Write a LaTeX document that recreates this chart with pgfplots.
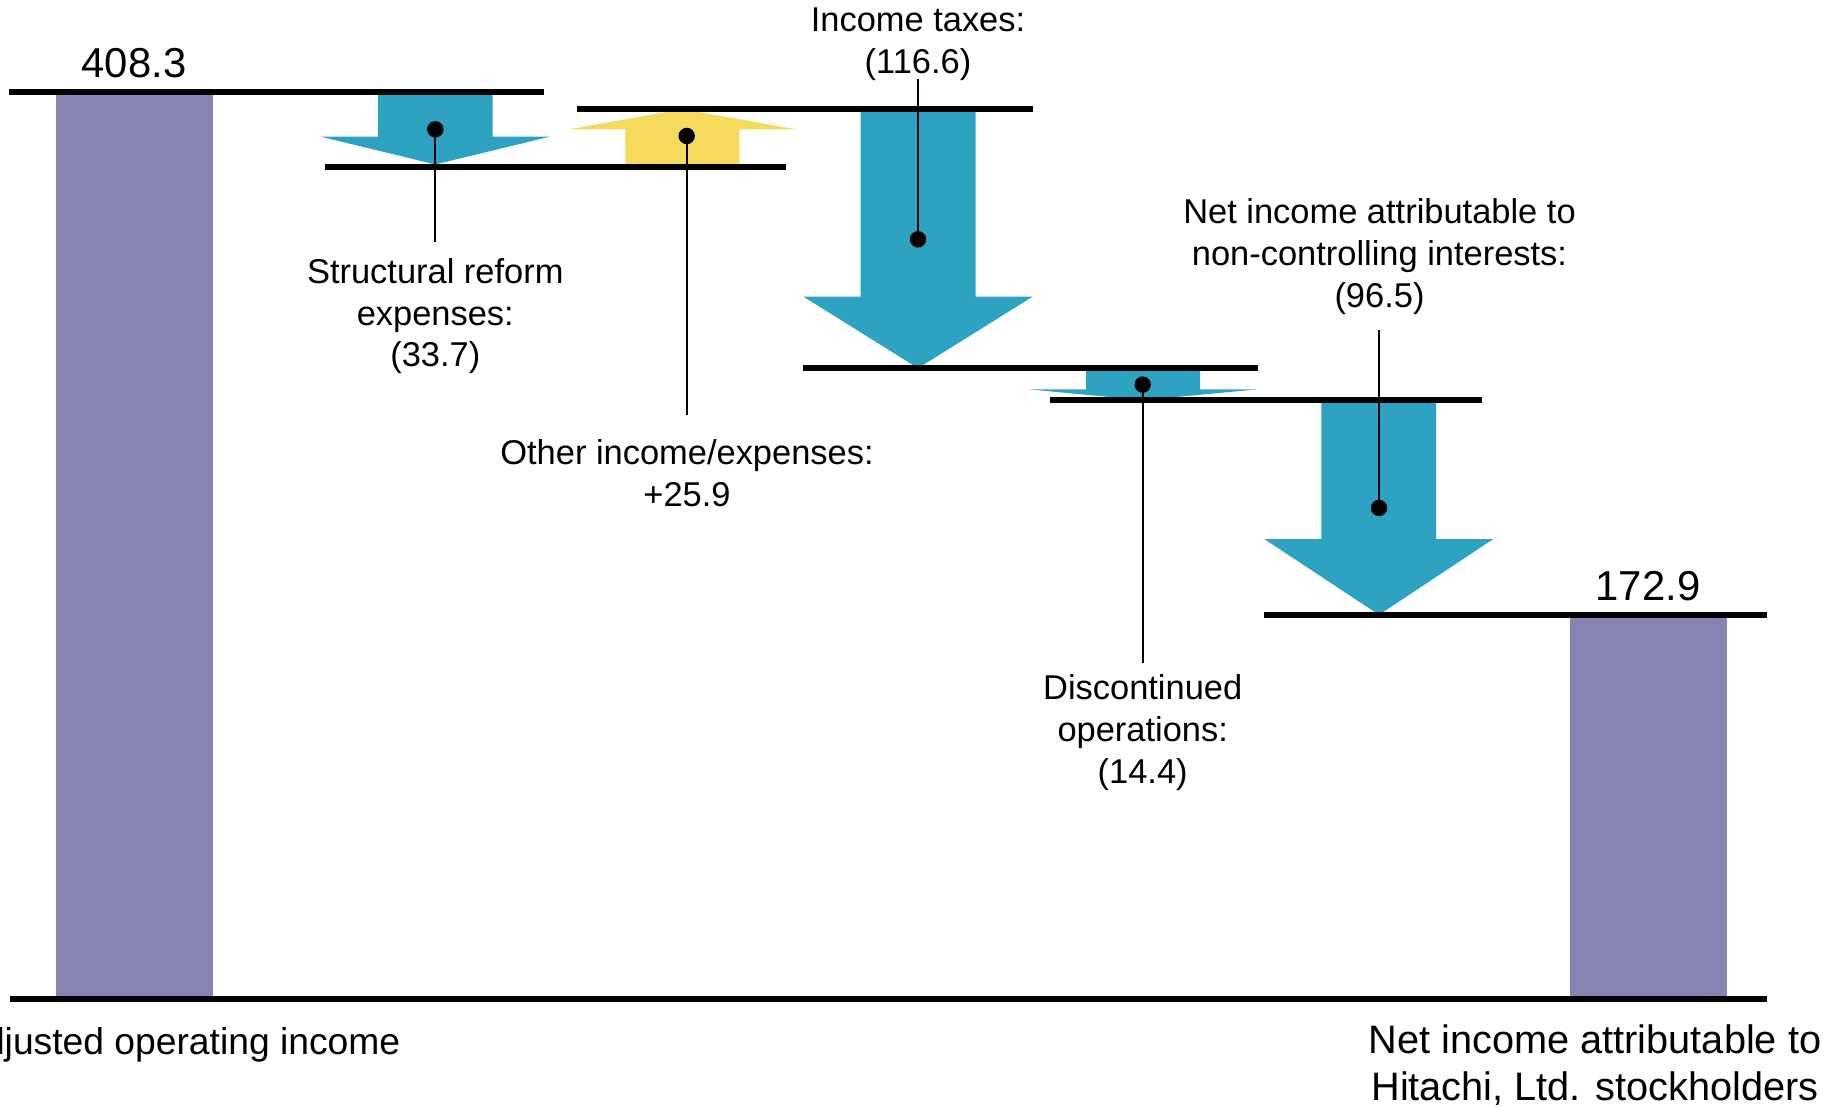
\documentclass[border=0pt]{standalone}
\usepackage{fontspec}
\setmainfont{Liberation Sans}
\usepackage{pgfplots}
\pgfplotsset{compat=1.18}
\definecolor{barpurple}{RGB}{135,131,179}
\definecolor{arrowblue}{RGB}{46,163,193}
\definecolor{arrowyellow}{RGB}{245,218,92}
\newcommand\fl{\fontsize{9.8}{11.9}\selectfont}
\newcommand\fv{\fontsize{11.9}{14}\selectfont}
\newcommand\fbl{\fontsize{10.6}{13}\selectfont}
\newcommand\fbr{\fontsize{11.3}{13.4}\selectfont}
\begin{document}
\begin{tikzpicture}
\begin{axis}[x=0.1mm, y=0.2222mm, xmin=0, xmax=1831, ymin=-48.6, ymax=449.6,
  axis lines=none, ticks=none, clip=false]
% total bars
\addplot[fill=barpurple, draw=none] coordinates {(56,0) (213,0) (213,408.3) (56,408.3)} -- cycle;
\addplot[fill=barpurple, draw=none] coordinates {(1570,0) (1727,0) (1727,172.9) (1570,172.9)} -- cycle;
% arrows
% structural reform expenses (33.7): 408.3 -> 374.6
\addplot[fill=arrowblue, draw=none] coordinates {(378,408.3) (492.5,408.3) (492.5,388.1) (550,388.1) (435.3,375.6) (320.7,388.1) (378,388.1)} -- cycle;
% other income/expenses +25.9: 374.6 -> 400.5
\addplot[fill=arrowyellow, draw=none] coordinates {(625.3,374.6) (739.3,374.6) (739.3,391.4) (796,391.4) (682.5,400.5) (569,391.4) (625.3,391.4)} -- cycle;
% income taxes (116.6): 400.5 -> 283.9
\addplot[fill=arrowblue, draw=none] coordinates {(860.7,400.5) (975.7,400.5) (975.7,316.1) (1032.7,316.1) (918,283.9) (803.3,316.1) (860.7,316.1)} -- cycle;
% discontinued operations (14.4): 283.9 -> 269.5
\addplot[fill=arrowblue, draw=none] coordinates {(1086,283.9) (1200,283.9) (1200,274.4) (1258,274.4) (1143,269.5) (1028.3,274.4) (1086,274.4)} -- cycle;
% non-controlling interests (96.5): 269.5 -> 172.9
\addplot[fill=arrowblue, draw=none] coordinates {(1321.3,269.5) (1436,269.5) (1436,207.0) (1493.3,207.0) (1379,172.9) (1264.3,207.0) (1321.3,207.0)} -- cycle;
% level lines
\addplot[black, line width=0.6mm] coordinates {(9,408.3) (544,408.3)};
\addplot[black, line width=0.6mm] coordinates {(325,374.6) (786,374.6)};
\addplot[black, line width=0.6mm] coordinates {(577.3,400.5) (1032.7,400.5)};
\addplot[black, line width=0.6mm] coordinates {(803.3,283.9) (1258,283.9)};
\addplot[black, line width=0.6mm] coordinates {(1050,269.5) (1482,269.5)};
\addplot[black, line width=0.6mm] coordinates {(1264,172.9) (1767,172.9)};
\addplot[black, line width=0.6mm] coordinates {(10,0) (1767,0)};
% leader lines
\addplot[black, line width=0.23mm] coordinates {(435.3,391.4) (435.3,340.8)};
\addplot[black, line width=0.23mm] coordinates {(686.7,388.4) (686.7,262.8)};
\addplot[black, line width=0.23mm] coordinates {(918,414.0) (918,341.9)};
\addplot[black, line width=0.23mm] coordinates {(1142.7,276.5) (1142.7,151.2)};
\addplot[black, line width=0.23mm] coordinates {(1379,300.9) (1379,221.0)};
% dots
\addplot[only marks, mark=*, mark size=0.75mm, black] coordinates {(435.3,391.4) (686.7,388.4) (918,341.9) (1142.7,276.5) (1379,221.0)};
% value labels
\node[inner sep=0, font=\fv] at (axis cs:134,421.3) {408.3};
\node[inner sep=0, font=\fv] at (axis cs:1648,186.0) {172.9};
% annotations
\node[inner sep=0, align=center, font=\fl] at (axis cs:435.3,307.3) {Structural reform\\expenses:\\(33.7)};
\node[inner sep=0, align=center, font=\fl] at (axis cs:687,236.8) {Other income/expenses:\\+25.9};
\node[inner sep=0, align=center, font=\fl] at (axis cs:918,429.6) {Income taxes:\\(116.6)};
\node[inner sep=0, align=center, font=\fl] at (axis cs:1142.7,120.0) {Discontinued\\operations:\\(14.4)};
\node[inner sep=0, align=center, font=\fl] at (axis cs:1379.5,334.1) {Net income attributable to\\non-controlling interests:\\(96.5)};
% category labels
\node[inner sep=0, anchor=east, font=\fbl] at (axis cs:401,-20.7) {Adjusted operating income};
\node[inner sep=0, align=center, font=\fbr] at (axis cs:1595,-29.6) {Net income attributable to\\Hitachi, Ltd. stockholders};
\end{axis}
\pgfresetboundingbox
\path (current axis.south west) rectangle (current axis.north east);
\end{tikzpicture}
\end{document}
